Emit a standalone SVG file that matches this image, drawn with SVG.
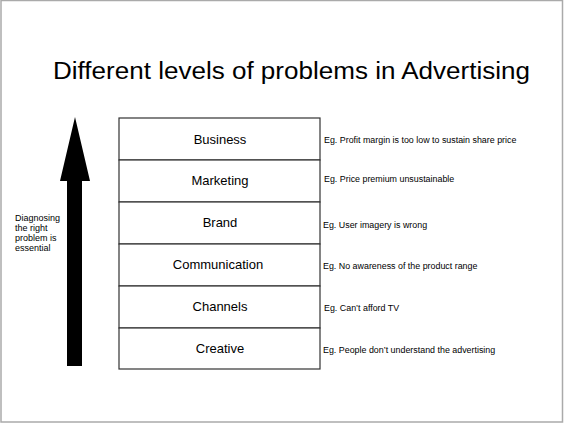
<svg xmlns="http://www.w3.org/2000/svg" width="564" height="423" viewBox="0 0 564 423">
<style>
text{font-family:"Liberation Sans",Arial,sans-serif;fill:#000}
.lvl{font-size:13px;text-anchor:middle}
.eg{font-size:8.9px}
.side{font-size:9px}
.row{fill:#fff;stroke:#333;stroke-width:1.2}
</style>
<rect x="0" y="0" width="564" height="423" fill="#fff"/>
<rect x="1" y="0.5" width="561.5" height="421.5" fill="none" stroke="#aaa" stroke-width="1.5"/>
<text x="53" y="79" font-size="23" textLength="477" lengthAdjust="spacingAndGlyphs">Different levels of problems in Advertising</text>
<g id="arrow">
<polygon points="75,117 90,181 82,181 82,366 67,366 67,181 60,181" fill="#000"/>
</g>
<g id="note">
<text class="side" x="15" y="220.5">Diagnosing</text>
<text class="side" x="15" y="230.5">the right</text>
<text class="side" x="15" y="240.5">problem is</text>
<text class="side" x="15" y="250.5">essential</text>
</g>
<g id="business"><rect class="row" x="119" y="118" width="201" height="42"/><text class="lvl" x="220" y="144">Business</text><text class="eg" x="324" y="143">Eg. Profit margin is too low to sustain share price</text></g>
<g id="marketing"><rect class="row" x="119" y="160" width="201" height="42"/><text class="lvl" x="220" y="185">Marketing</text><text class="eg" x="324" y="182">Eg. Price premium unsustainable</text></g>
<g id="brand"><rect class="row" x="119" y="202" width="201" height="42"/><text class="lvl" x="220" y="227">Brand</text><text class="eg" x="323" y="228">Eg. User imagery is wrong</text></g>
<g id="communication"><rect class="row" x="119" y="244" width="201" height="42"/><text class="lvl" x="218" y="269">Communication</text><text class="eg" x="323" y="269">Eg. No awareness of the product range</text></g>
<g id="channels"><rect class="row" x="119" y="286" width="201" height="42"/><text class="lvl" x="220" y="311">Channels</text><text class="eg" x="324" y="311">Eg. Can’t afford TV</text></g>
<g id="creative"><rect class="row" x="119" y="328" width="201" height="41"/><text class="lvl" x="220" y="353">Creative</text><text class="eg" x="323" y="353">Eg. People don’t understand the advertising</text></g>
<g id="connectors"></g>
</svg>
